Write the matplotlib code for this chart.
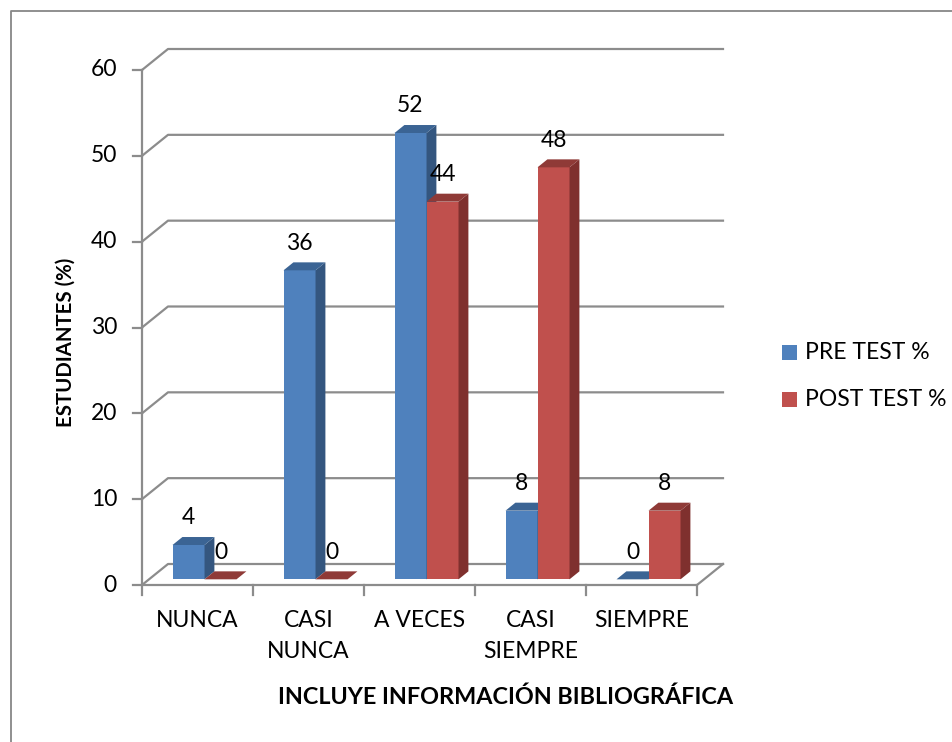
import matplotlib
matplotlib.use("Agg")
import matplotlib.pyplot as plt
import matplotlib.patches as patches

# ----------------------------
# Data
# ----------------------------

CATEGORIES = ["NUNCA", "CASI\nNUNCA", "A VECES", "CASI\nSIEMPRE", "SIEMPRE"]
SERIES = ["PRE TEST %", "POST TEST %"]
PRE_TEST = [4, 36, 52, 8, 0]
POST_TEST = [0, 0, 44, 48, 8]
Y_TICKS = [0, 10, 20, 30, 40, 50, 60]
X_LABEL = "INCLUYE INFORMACIÓN BIBLIOGRÁFICA"
Y_LABEL = "ESTUDIANTES (%)"

# ----------------------------
# Style
# ----------------------------

FONT = ["Lato", "DejaVu Sans"]
FS = 16.5
GRID = "#8c8c8c"
FACES = {
    "PRE TEST %": ("#4f81bd", "#3b6494", "#34567f"),   # front, top, side
    "POST TEST %": ("#c0504d", "#8f3a37", "#7f302e"),
}

plt.rcParams["font.family"] = FONT

W, H = 953, 742
fig = plt.figure(figsize=(W / 100, H / 100), dpi=100)

# outer border (only top and left edges fall inside the picture)
fig.add_artist(plt.Line2D([10.5 / W, 10.5 / W, 1.0], [0.0, 1 - 10.5 / H, 1 - 10.5 / H],
                          transform=fig.transFigure, color="#878787", lw=1.3))

# front axis box: x 142..697 px, y 585..70 px (from top)
ax = fig.add_axes([142 / W, (H - 585) / H, 555 / W, 515 / H])
ncat = len(CATEGORIES)
ax.set_xlim(0, ncat)
ax.set_ylim(0, 60)
ax.axis("off")

px_x = ncat / 555.0
px_y = 60 / 515.0
DX, DY = 26 * px_x, 21 * px_y       # floor depth
BAR_W = 32 * px_x
F0, F1 = 0.27, 0.65                   # bar depth range as fraction of floor depth

# gridlines / back wall
for v in Y_TICKS:
    ax.plot([0, DX, ncat + DX], [v, v + DY, v + DY], color=GRID, lw=1.6,
            clip_on=False, zorder=1)
    ax.plot([-9 * px_x, 0], [v, v], color=GRID, lw=1.6, clip_on=False, zorder=1)
    ax.text(-25 * px_x, v, str(v), ha="right", va="center", fontsize=FS)

# floor front edge, right edge, left axis
ax.plot([0, ncat, ncat + DX], [0, 0, DY], color=GRID, lw=1.6, clip_on=False, zorder=1)
ax.plot([0, 0], [-10 * px_y, 60], color=GRID, lw=1.6, clip_on=False, zorder=1)
for i in range(1, ncat + 1):
    ax.plot([i, i], [0, -10 * px_y], color=GRID, lw=1.6, clip_on=False, zorder=1)

# x tick labels
for i, lab in enumerate(CATEGORIES):
    ax.text(i + 0.5, -25 * px_y, lab, ha="center", va="top", fontsize=FS,
            linespacing=1.6)

# bars
for i in range(ncat):
    for s, (name, vals) in enumerate(zip(SERIES, [PRE_TEST, POST_TEST])):
        front, top, side = FACES[name]
        v = vals[i]
        x0 = i + 0.5 - BAR_W + s * BAR_W + F0 * DX
        y0 = F0 * DY
        y1 = y0 + v
        bx, by = (F1 - F0) * DX, (F1 - F0) * DY
        z = 2 + i * 2 + s
        if v > 0:
            ax.add_patch(patches.Rectangle((x0, y0), BAR_W, v, facecolor=front,
                                           edgecolor="none", zorder=z, clip_on=False))
            ax.add_patch(patches.Polygon([(x0 + BAR_W, y0), (x0 + BAR_W, y1),
                                          (x0 + BAR_W + bx, y1 + by),
                                          (x0 + BAR_W + bx, y0 + by)],
                                         facecolor=side, edgecolor="none",
                                         zorder=z, clip_on=False))
        ax.add_patch(patches.Polygon([(x0, y1), (x0 + BAR_W, y1),
                                      (x0 + BAR_W + bx, y1 + by), (x0 + bx, y1 + by)],
                                     facecolor=top, edgecolor="none", zorder=z,
                                     clip_on=False))
        ax.text(x0 + BAR_W / 2, y1 + 27 * px_y, str(v), ha="center", va="center",
                fontsize=FS, zorder=20)

# axis titles
fig.text(66 / W, 1 - 342 / H, Y_LABEL, rotation=90, ha="center", va="center",
         fontsize=14.7, fontweight="bold")
fig.text(506 / W, 1 - 697 / H, X_LABEL, ha="center", va="center",
         fontsize=16.8, fontweight="bold")

# legend
for k, name in enumerate(SERIES):
    yc = 1 - (352 + k * 47) / H
    fig.patches.append(patches.Rectangle((782 / W, yc - 7.5 / H), 15 / W, 15 / H,
                                         transform=fig.transFigure,
                                         facecolor=FACES[name][0], edgecolor="none"))
    fig.text(805 / W, yc, name, ha="left", va="center", fontsize=FS)

fig.savefig("out.png", dpi=100)
